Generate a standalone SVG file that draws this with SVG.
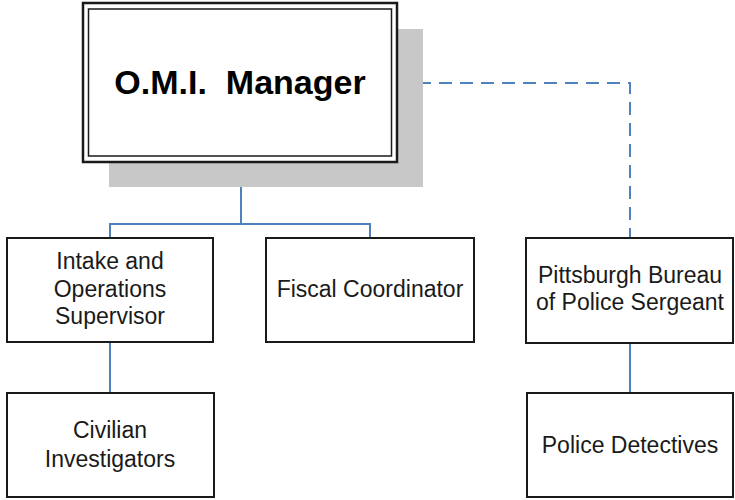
<svg xmlns="http://www.w3.org/2000/svg" width="735" height="500" viewBox="0 0 735 500">
<style>
.box{fill:#fff;stroke:#1a1a1a;stroke-width:2}
.t{font-family:"Liberation Sans",Arial,sans-serif;font-size:23px;fill:#1a1a1a;text-anchor:middle}
.big{font-family:"Liberation Sans",Arial,sans-serif;font-size:34px;font-weight:bold;fill:#000;text-anchor:middle;white-space:pre}
.c{fill:none;stroke:#4f81bd;stroke-width:2}
.d{fill:none;stroke:#4f81bd;stroke-width:2;stroke-dasharray:13 8}
</style>
<rect x="0" y="0" width="735" height="500" fill="#fff"/>
<g id="connectors">
<path class="c" d="M241,162 V224 M110,238 V224 H370 V238"/>
<path class="d" d="M397,83 H630 V238"/>
<path class="c" d="M110,342 V393"/>
<path class="c" d="M630,343 V393"/>
</g>
<g id="manager">
<rect x="109" y="29" width="314" height="158" fill="#c8c8c8"/>
<rect x="83" y="3" width="314" height="159" fill="#fff" stroke="#1a1a1a" stroke-width="2.5"/>
<rect x="88.5" y="9" width="303" height="147" fill="none" stroke="#1a1a1a" stroke-width="1.5"/>
<text class="big" x="240" y="94" xml:space="preserve">O.M.I.  Manager</text>
</g>
<g id="intake">
<rect class="box" x="7" y="238" width="206" height="104"/>
<text class="t" x="110" y="269">Intake and</text>
<text class="t" x="110" y="297">Operations</text>
<text class="t" x="110" y="324">Supervisor</text>
</g>
<g id="fiscal">
<rect class="box" x="266" y="238" width="208" height="104"/>
<text class="t" x="370" y="297">Fiscal Coordinator</text>
</g>
<g id="sergeant">
<rect class="box" x="526" y="238" width="207" height="105"/>
<text class="t" x="630" y="283">Pittsburgh Bureau</text>
<text class="t" x="630" y="310">of Police Sergeant</text>
</g>
<g id="civilian">
<rect class="box" x="7" y="393" width="207" height="104"/>
<text class="t" x="110" y="438">Civilian</text>
<text class="t" x="110" y="467">Investigators</text>
</g>
<g id="detectives">
<rect class="box" x="527" y="393" width="206" height="104"/>
<text class="t" x="630" y="453">Police Detectives</text>
</g>
</svg>
